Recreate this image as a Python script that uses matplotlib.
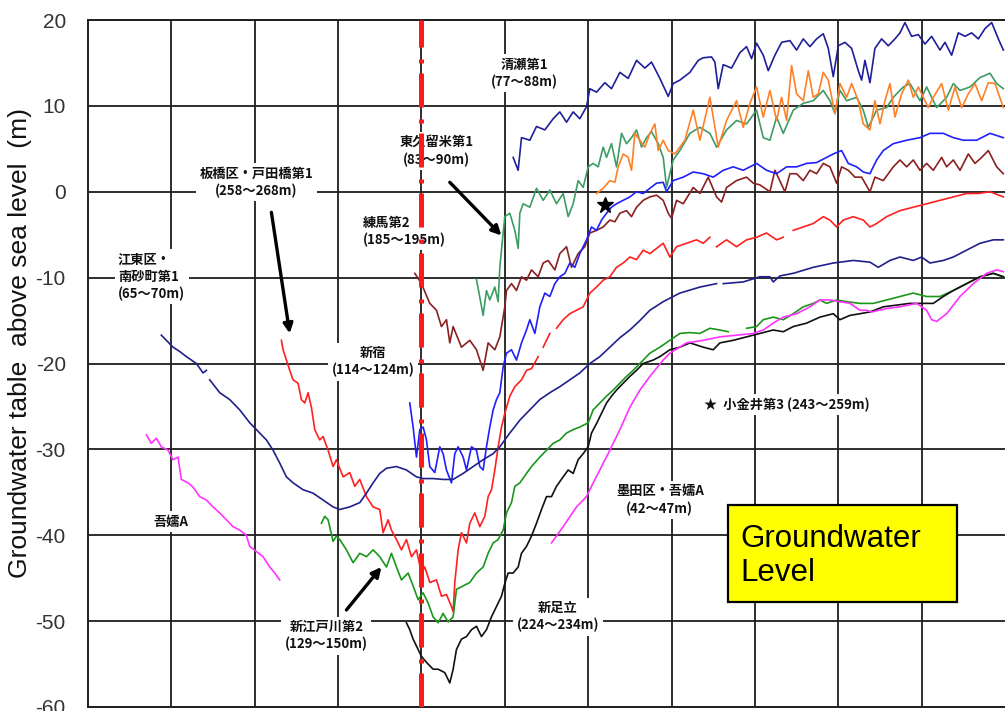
import numpy as np
import matplotlib
matplotlib.use("Agg")
import matplotlib.pyplot as plt
from matplotlib.patches import Rectangle

nan = np.nan

# groundwater level series (year, m above sea level)
kiyose = [(1975.5,4.0),(1975.8,2.5),(1976.0,6.3),(1976.5,6.0),(1976.9,7.6),(1977.4,7.2),(1977.9,8.5),(1978.3,9.3),
          (1978.7,8.1),(1979.1,9.3),(1979.5,8.5),(1979.9,9.9),(1980.1,12.0),(1980.5,11.6),(1981.0,12.7),(1981.4,12.0),
          (1981.9,13.9),(1982.4,13.2),(1982.9,15.3),(1983.4,14.4),(1983.8,15.1),(1984.3,13.2),(1984.8,11.1),(1985.1,12.6),
          (1985.5,13.0),(1986.1,13.9),(1986.6,15.3),(1986.9,15.6),(1987.4,15.7),(1987.6,15.1),(1987.8,12.0),(1988.1,14.8),
          (1988.6,14.4),(1989.1,16.2),(1989.5,16.9),(1989.8,15.5),(1990.1,17.3),(1990.5,15.9),(1990.8,14.1),(1991.2,15.9),
          (1991.6,17.4),(1992.1,17.6),(1992.5,16.5),(1992.9,17.8),(1993.3,16.9),(1993.7,17.8),(1994.1,18.4),(1994.4,16.7),
          (1994.7,13.4),(1995.0,17.0),(1995.4,17.4),(1995.8,16.7),(1996.2,14.1),(1996.4,13.0),(1996.6,15.3),(1996.9,12.7),
          (1997.2,16.7),(1997.6,17.8),(1998.0,17.0),(1998.4,17.8),(1998.7,18.5),(1999.0,19.7),(1999.4,18.1),(1999.8,18.3),
          (2000.2,17.2),(2000.6,18.1),(2001.1,16.5),(2001.4,17.4),(2001.8,15.9),(2002.2,18.5),(2002.6,18.1),(2003.0,18.5),
          (2003.4,17.8),(2003.8,19.0),(2004.2,19.7),(2004.6,17.8),(2004.9,16.5)]

higashikurume = [(1973.3,-10.2),(1973.7,-14.4),(1973.9,-11.5),(1974.1,-12.6),(1974.4,-11.1),(1974.6,-12.8),(1974.7,-8.8),
                 (1974.9,-4.8),(1975.0,-2.9),(1975.3,-2.5),(1975.6,-4.5),(1975.8,-6.6),(1975.9,-2.5),(1976.1,-1.4),
                 (1976.5,-1.8),(1976.9,0.4),(1977.3,-1.0),(1977.7,0.2),(1978.1,-1.4),(1978.5,-0.2),(1978.8,-2.9),
                 (1979.1,-1.4),(1979.4,1.3),(1979.7,0.5),(1980.0,2.9),(1980.3,3.3),(1980.6,2.9),(1980.9,5.2),(1981.1,4.0),
                 (1981.4,5.6),(1981.7,2.9),(1982.0,6.8),(1982.3,5.6),(1982.6,6.3),(1982.9,7.2),(1983.2,5.2),(1983.5,6.3),
                 (1983.8,7.0),(1984.2,5.6),(1984.5,4.0),(1984.7,0.5),(1985.1,3.7),(1985.5,4.8),(1986.1,6.8),(1986.7,7.5),
                 (1987.3,6.8),(1987.7,5.2),(1988.3,7.2),(1988.9,8.3),(1989.5,7.9),(1990.1,9.5),(1990.5,6.3),(1990.9,6.0),
                 (1991.3,8.7),(1991.7,6.8),(1992.3,9.5),(1992.9,10.3),(1993.5,10.6),(1994.1,11.8),(1994.5,10.6),
                 (1994.8,9.1),(1995.1,11.8),(1995.5,10.6),(1996.1,11.0),(1996.5,9.5),(1996.8,7.5),(1997.3,9.5),
                 (1997.9,9.8),(1998.3,11.0),(1998.9,12.2),(1999.3,12.6),(1999.9,10.6),(2000.3,12.2),(2000.9,9.8),
                 (2001.5,11.0),(2001.9,12.6),(2002.3,11.8),(2002.9,12.2),(2003.5,13.3),(2004.1,13.8),(2004.5,12.6),
                 (2004.9,12.0)]

orange = [(1980.5,-0.2),(1980.9,0.4),(1981.3,1.3),(1981.6,1.1),(1981.8,2.9),(1982.1,4.4),(1982.4,4.0),(1982.6,2.5),
          (1982.8,6.8),(1983.1,6.0),(1983.4,5.2),(1983.7,6.8),(1984.0,7.9),(1984.2,4.8),(1984.5,6.0),(1984.8,4.8),
          (1985.2,4.4),(1985.8,6.0),(1986.3,9.5),(1986.7,6.0),(1987.3,11.0),(1987.8,5.2),(1988.3,8.3),(1988.9,10.6),
          (1989.3,7.5),(1989.7,10.3),(1990.1,12.2),(1990.5,8.7),(1990.9,11.8),(1991.3,8.3),(1991.6,11.0),(1991.9,8.3),
          (1992.2,14.7),(1992.5,11.4),(1992.9,10.6),(1993.2,14.1),(1993.5,11.0),(1993.8,11.4),(1994.1,13.9),
          (1994.4,13.0),(1994.8,9.1),(1995.1,12.6),(1995.5,11.0),(1995.8,12.6),(1996.2,10.6),(1996.5,7.9),(1996.9,7.2),
          (1997.2,10.6),(1997.5,7.9),(1997.8,10.6),(1998.1,12.6),(1998.4,8.7),(1998.8,11.4),(1999.2,13.0),
          (1999.5,11.0),(1999.8,12.2),(2000.0,11.4),(2000.4,9.8),(2000.7,11.0),(2001.2,12.6),(2001.6,9.5),
          (2002.0,12.2),(2002.4,9.8),(2002.8,11.4),(2003.2,12.6),(2003.6,10.6),(2004.0,12.7),(2004.4,12.6),
          (2004.9,9.8)]

nerima = [(1969.6,-9.5),(1970.0,-10.7),(1970.5,-13.0),(1970.9,-13.8),(1971.2,-15.7),(1971.5,-14.9),(1971.7,-17.6),
          (1971.9,-15.7),(1972.4,-18.1),(1972.9,-17.3),(1973.3,-18.4),(1973.7,-20.8),(1974.0,-17.6),(1974.4,-18.4),
          (1974.7,-16.9),(1975.0,-13.4),(1975.1,-11.5),(1975.4,-10.7),(1975.7,-11.5),(1976.0,-9.9),(1976.3,-10.3),
          (1976.6,-9.1),(1977.0,-9.9),(1977.3,-8.3),(1977.6,-8.0),(1978.0,-9.1),(1978.3,-7.2),(1978.7,-6.4),
          (1979.0,-8.8),(1979.4,-7.2),(1979.8,-6.4),(1980.1,-4.8),(1980.5,-4.5),(1980.9,-4.1),(1981.3,-3.3),
          (1981.6,-3.5),(1981.9,-2.5),(1982.3,-2.2),(1982.6,-2.9),(1982.9,-1.8),(1983.3,-1.0),(1983.7,-0.6),
          (1984.1,-0.4),(1984.5,-1.0),(1984.8,-2.5),(1985.0,-3.1),(1985.3,-1.0),(1985.7,-1.4),(1986.3,0.5),
          (1986.7,-0.2),(1987.2,1.7),(1987.7,-0.6),(1988.0,-1.2),(1988.3,0.5),(1988.9,1.3),(1989.5,1.7),(1989.9,1.0),
          (1990.3,0.8),(1990.9,0.0),(1991.2,2.5),(1991.8,0.0),(1992.1,2.1),(1992.5,2.1),(1992.9,1.3),(1993.3,2.5),
          (1993.7,2.1),(1994.1,3.3),(1994.5,2.9),(1994.9,1.0),(1995.2,2.9),(1995.6,2.5),(1996.0,1.7),(1996.4,1.7),
          (1996.9,0.0),(1997.2,1.7),(1997.7,1.3),(1998.3,2.9),(1998.7,3.7),(1999.1,2.9),(1999.5,3.7),(1999.9,2.5),
          (2000.3,3.3),(2000.7,2.5),(2001.2,4.0),(2001.5,2.9),(2001.9,3.7),(2002.3,2.5),(2002.8,4.4),(2003.2,3.3),
          (2003.6,4.0),(2004.0,4.8),(2004.5,2.9),(2004.9,2.1)]

shinjuku = [(1969.3,-24.6),(1969.5,-27.4),(1969.7,-30.9),(1969.9,-27.7),(1970.1,-27.4),(1970.3,-28.9),(1970.5,-32.0),
            (1970.8,-32.7),(1971.1,-29.7),(1971.3,-30.5),(1971.5,-32.4),(1971.8,-33.9),(1972.0,-30.5),(1972.2,-29.7),
            (1972.5,-30.9),(1972.7,-32.4),(1973.0,-29.7),(1973.3,-30.1),(1973.5,-32.0),(1973.7,-32.4),(1973.9,-29.7),
            (1974.1,-27.4),(1974.3,-25.4),(1974.5,-24.2),(1974.7,-23.4),(1974.9,-20.4),(1975.1,-18.8),(1975.4,-18.4),
            (1975.7,-19.6),(1976.0,-17.6),(1976.3,-16.1),(1976.5,-14.9),(1976.8,-16.5),(1977.1,-13.4),(1977.4,-11.8),
            (1977.7,-12.2),(1978.0,-10.7),(1978.3,-9.9),(1978.6,-9.5),(1978.9,-8.3),(1979.2,-8.8),(1979.5,-7.2),
            (1979.9,-5.6),(1980.2,-4.1),(1980.5,-4.5),(1980.8,-3.3),(1981.1,-2.5),(1981.4,-1.8),(1981.7,-1.4),
            (1982.1,-1.0),(1982.5,-0.6),(1982.9,0.0),(1983.3,-0.2),(1983.7,0.4),(1984.1,1.0),(1984.5,1.1),
            (1984.7,0.0),(1985.1,1.3),(1985.7,1.7),(1986.3,2.3),(1986.9,2.1),(1987.5,1.7),(1988.1,2.5),(1988.7,2.9),
            (1989.3,2.5),(1990.1,3.3),(1990.7,2.5),(1991.3,2.1),(1991.9,2.9),(1992.5,2.9),(1993.1,3.3),(1993.7,3.4),
            (1994.3,4.0),(1994.7,4.4),(1995.2,4.8),(1995.6,3.3),(1996.1,2.9),(1996.5,2.3),(1996.9,2.1),(1997.3,3.7),
            (1997.7,4.8),(1998.3,5.6),(1999.1,6.0),(1999.9,6.3),(2000.5,6.8),(2001.3,6.8),(2001.9,6.3),(2002.5,6.0),
            (2003.3,6.0),(2004.1,6.8),(2004.9,6.3)]

itabashi = [(1961.6,-17.3),(1961.7,-18.4),(1961.9,-19.6),(1962.1,-20.8),(1962.3,-21.9),(1962.6,-22.3),(1962.8,-24.2),
            (1963.0,-24.6),(1963.2,-23.4),(1963.4,-25.1),(1963.6,-27.7),(1963.9,-28.9),(1964.1,-28.5),(1964.4,-30.1),
            (1964.7,-32.0),(1964.9,-31.2),(1965.3,-33.2),(1965.7,-32.7),(1966.0,-34.3),(1966.3,-33.5),(1966.7,-35.5),
            (1967.1,-36.7),(1967.5,-37.0),(1967.7,-39.7),(1968.0,-38.2),(1968.2,-39.4),(1968.5,-40.5),(1968.8,-41.7),
            (1969.1,-40.5),(1969.4,-42.5),(1969.7,-41.7),(1970.0,-44.4),(1970.2,-43.7),(1970.5,-45.5),(1970.9,-45.2),
            (1971.2,-47.1),(1971.5,-46.9),(1971.8,-48.3),(1971.9,-48.9),(1972.0,-45.5),(1972.2,-41.7),(1972.4,-39.7),
            (1972.7,-40.9),(1972.9,-38.6),(1973.2,-37.4),(1973.5,-39.0),(1973.8,-37.8),(1974.0,-35.5),(1974.2,-34.7),
            (1974.4,-32.4),(1974.6,-29.7),(1974.8,-27.4),(1975.0,-25.8),(1975.3,-23.8),(1975.6,-22.7),(1976.0,-21.9),
            (1976.3,-20.8),(1976.6,-20.6),(1977.0,-19.2),(1977.1,nan),(1977.3,-18.1),(1977.7,-16.5),(1977.9,nan),
            (1978.1,-15.9),(1978.5,-14.9),(1978.9,-14.2),(1979.3,-13.8),(1979.7,-13.4),(1980.1,-11.8),(1980.5,-11.1),
            (1980.9,-10.3),(1981.3,-9.9),(1981.7,-8.8),(1982.1,-8.3),(1982.5,-7.6),(1982.9,-7.9),(1983.3,-6.8),
            (1983.7,-7.2),(1984.1,-6.6),(1984.5,-6.0),(1984.9,-7.6),(1985.3,-6.4),(1985.9,-6.0),(1986.5,-5.6),
            (1986.9,-6.0),(1987.3,-5.3),(1987.5,nan),(1987.7,-6.4),(1988.3,-5.6),(1988.9,-6.4),(1989.5,-5.6),
            (1990.1,-5.3),(1990.7,-4.8),(1991.3,-5.6),(1991.7,-5.3),(1991.9,nan),(1992.3,-4.5),(1992.9,-4.1),
            (1993.5,-3.7),(1994.1,-2.9),(1994.5,-3.3),(1994.9,-4.1),(1995.3,-3.3),(1995.9,-2.9),(1996.5,-3.3),
            (1996.9,-4.1),(1997.3,-3.7),(1997.9,-2.9),(1998.7,-2.2),(1999.5,-1.8),(2000.3,-1.4),(2001.1,-1.0),
            (2001.9,-0.6),(2002.7,-0.2),(2003.4,-0.2),(2004.1,0.0),(2004.9,-0.6)]

koto = [(1954.4,-16.7),(1955.1,-18.1),(1955.5,-18.6),(1955.9,-19.2),(1956.5,-20.0),(1956.9,-21.1),(1957.1,-20.8),
        (1957.2,nan),(1957.3,-21.9),(1957.9,-23.4),(1958.5,-24.2),(1959.1,-25.4),(1959.7,-26.9),(1960.3,-28.1),
        (1960.7,-28.9),(1961.1,-30.1),(1961.5,-31.6),(1961.9,-33.2),(1962.3,-33.9),(1962.9,-34.7),(1963.5,-35.1),
        (1964.1,-35.9),(1964.7,-36.7),(1965.1,-37.0),(1965.7,-36.7),(1966.3,-36.2),(1966.7,-35.1),(1967.1,-33.9),
        (1967.5,-32.8),(1967.9,-32.2),(1968.5,-32.0),(1969.1,-32.4),(1969.7,-33.2),(1970.1,-33.4),(1970.7,-33.4),
        (1971.3,-33.5),(1971.9,-33.5),(1972.5,-32.8),(1973.1,-32.0),(1973.7,-31.2),(1974.3,-30.5),(1974.7,-29.7),
        (1975.0,-28.9),(1975.3,-28.1),(1975.9,-26.6),(1976.5,-25.4),(1977.1,-24.2),(1977.7,-23.4),(1978.3,-22.7),
        (1978.9,-21.9),(1979.5,-21.1),(1980.1,-20.0),(1980.7,-19.2),(1981.3,-18.1),(1981.9,-17.0),(1982.5,-16.1),
        (1983.1,-15.0),(1983.7,-13.8),(1984.5,-12.8),(1985.5,-11.8),(1986.7,-11.1),(1987.7,-10.7),(1987.9,nan),
        (1988.1,-10.7),(1989.3,-10.5),(1990.3,-9.9),(1990.9,-9.9),(1991.1,-10.5),(1991.5,-9.8),(1992.3,-9.5),
        (1993.5,-8.8),(1994.7,-8.3),(1995.9,-8.0),(1996.9,-8.2),(1997.4,-8.8),(1998.1,-8.0),(1998.7,-7.6),
        (1999.5,-8.0),(2000.0,-7.6),(2000.5,-8.3),(2001.3,-8.0),(2001.9,-7.6),(2002.7,-6.8),(2003.5,-6.0),
        (2004.3,-5.6),(2004.9,-5.6)]

edogawa = [(1964.0,-38.6),(1964.2,-37.8),(1964.4,-38.2),(1964.7,-40.7),(1964.9,-40.1),(1965.1,-40.5),(1965.5,-41.7),
           (1965.9,-43.2),(1966.3,-42.1),(1966.7,-42.5),(1967.1,-41.7),(1967.5,-42.5),(1967.9,-43.7),(1968.2,-42.1),
           (1968.5,-43.7),(1968.8,-45.2),(1969.2,-44.4),(1969.5,-45.9),(1969.8,-47.5),(1970.1,-46.7),(1970.4,-47.9),
           (1970.7,-49.5),(1971.0,-50.2),(1971.3,-49.1),(1971.6,-50.1),(1971.9,-49.5),(1972.1,-46.3),(1972.5,-45.9),
           (1972.9,-45.5),(1973.3,-44.4),(1973.7,-43.7),(1974.0,-42.1),(1974.3,-40.9),(1974.6,-40.5),(1974.9,-39.4),
           (1975.1,-37.4),(1975.4,-36.2),(1975.6,-34.3),(1975.9,-33.9),(1976.3,-32.8),(1976.6,-32.0),(1977.1,-30.9),
           (1977.5,-30.1),(1977.9,-29.3),(1978.3,-28.9),(1978.7,-28.1),(1979.1,-27.7),(1979.5,-27.4),(1980.0,-26.9),
           (1980.3,-25.4),(1980.7,-24.6),(1981.1,-23.8),(1981.5,-23.1),(1981.9,-22.3),(1982.3,-21.5),(1982.7,-20.8),
           (1983.1,-20.0),(1983.7,-18.8),(1984.3,-18.1),(1984.9,-17.3),(1985.5,-16.5),(1986.1,-16.4),(1986.7,-16.5),
           (1987.3,-15.9),(1987.9,-16.1),(1988.4,-16.3),(1988.7,nan),(1989.5,-15.9),(1990.1,-15.7),(1990.5,-14.9),
           (1991.1,-14.6),(1991.7,-14.9),(1992.3,-14.2),(1992.9,-13.4),(1993.5,-13.0),(1993.9,-12.6),(1994.3,-13.0),
           (1994.9,-12.6),(1995.5,-12.8),(1996.3,-13.0),(1997.1,-13.0),(1997.9,-12.6),(1998.7,-12.2),(1999.5,-11.8),
           (2000.3,-12.2),(2001.1,-12.2),(2001.9,-11.5),(2002.7,-10.7),(2003.5,-9.9),(2004.3,-9.5),(2004.9,-9.9)]

adachi = [(1969.1,-50.2),(1969.3,-51.0),(1969.5,-52.1),(1969.8,-53.3),(1970.0,-54.1),(1970.3,-54.8),(1970.7,-55.6),
          (1971.0,-55.6),(1971.4,-56.0),(1971.7,-57.2),(1971.9,-55.6),(1972.1,-53.3),(1972.4,-52.1),(1972.7,-51.8),
          (1973.0,-51.0),(1973.3,-50.6),(1973.6,-51.8),(1973.9,-51.0),(1974.2,-49.5),(1974.5,-48.3),(1974.8,-47.1),
          (1975.0,-45.6),(1975.2,-44.4),(1975.5,-44.4),(1975.8,-43.7),(1976.0,-42.1),(1976.3,-41.3),(1976.6,-40.1),
          (1976.9,-38.6),(1977.2,-37.0),(1977.5,-35.5),(1977.8,-35.5),(1978.1,-34.3),(1978.5,-33.2),(1978.8,-32.4),
          (1979.1,-32.8),(1979.4,-31.2),(1979.7,-30.5),(1980.0,-29.7),(1980.2,-28.1),(1980.5,-27.0),(1980.8,-25.8),
          (1981.1,-24.6),(1981.4,-23.8),(1981.7,-23.1),(1982.1,-22.3),(1982.5,-21.5),(1982.9,-20.8),(1983.3,-20.0),
          (1983.9,-19.6),(1984.3,-19.2),(1984.9,-18.4),(1985.5,-18.1),(1986.1,-17.6),(1986.9,-18.1),(1987.5,-18.4),
          (1987.9,-17.6),(1988.7,-17.3),(1989.5,-16.9),(1990.3,-16.5),(1991.1,-16.1),(1991.7,-16.3),(1992.3,-15.7),
          (1993.1,-15.3),(1993.9,-14.6),(1994.7,-14.2),(1995.1,-14.9),(1995.7,-14.4),(1996.3,-14.2),(1996.9,-14.0),
          (1997.7,-13.4),(1998.5,-13.2),(1999.3,-13.0),(2000.1,-13.0),(2000.7,-13.0),(2001.3,-12.2),(2001.9,-11.5),
          (2002.7,-10.7),(2003.5,-9.9),(2004.3,-9.5),(2004.9,-9.9)]

sumida = [(1977.8,-40.9),(1978.5,-39.0),(1979.3,-36.7),(1979.9,-35.5),(1980.3,-33.9),(1980.7,-32.4),(1981.3,-30.1),
          (1981.9,-27.7),(1982.5,-25.1),(1983.1,-23.1),(1983.7,-21.5),(1984.5,-19.6),(1984.9,-18.8),(1985.9,-17.6),
          (1986.9,-17.3),(1987.9,-16.9),(1988.9,-16.7),(1989.9,-16.5),(1990.5,-16.1),(1991.1,-15.3),(1991.7,-14.6),
          (1992.5,-14.2),(1993.3,-13.4),(1993.9,-12.6),(1994.5,-12.6),(1995.1,-12.8),(1995.7,-13.0),(1996.3,-13.8),
          (1996.7,-13.8),(1997.0,-14.0),(1997.9,-13.6),(1998.7,-13.4),(1999.7,-13.0),(2000.0,-13.4),(2000.3,-13.8),
          (2000.6,-14.9),(2000.9,-15.1),(2001.5,-14.2),(2002.3,-12.2),(2003.1,-10.7),(2003.9,-9.5),(2004.5,-9.1),
          (2004.9,-9.3)]

azuma = [(1953.5,-28.3),(1953.8,-29.3),(1954.1,-28.7),(1954.4,-29.7),(1954.8,-30.1),(1955.1,-31.2),(1955.4,-30.9),
         (1955.6,-33.5),(1956.0,-33.9),(1956.3,-34.4),(1956.7,-35.5),(1957.1,-35.9),(1957.5,-36.7),(1957.9,-37.4),
         (1958.3,-38.2),(1958.7,-39.0),(1959.1,-39.4),(1959.5,-40.0),(1959.7,-41.3),(1960.1,-41.9),(1960.5,-42.5),
         (1960.9,-43.7),(1961.2,-44.4),(1961.5,-45.2)]

series = [
    (kiyose, '#1f1f99'),
    (higashikurume, '#3c9c64'),
    (orange, '#ff8026'),
    (nerima, '#8b2020'),
    (shinjuku, '#2020ff'),
    (itabashi, '#ff2020'),
    (koto, '#20208c'),
    (edogawa, '#1a961a'),
    (adachi, '#111111'),
    (sumida, '#ff33ff'),
    (azuma, '#ff33ff'),
]

# station labels: text, x, y, alignment
labels = [
    ('江東区・\n南砂町第1\n(65～70m)', 1951.8, -9.9, 'left'),
    ('板橋区・戸田橋第1\n(258～268m)', 1960.1, 1.1, 'center'),
    ('清瀬第1\n(77～88m)', 1976.2, 13.8, 'center'),
    ('東久留米第1\n(83～90m)', 1970.9, 4.7, 'center'),
    ('練馬第2\n(185～195m)', 1966.5, -4.6, 'left'),
    ('新宿\n(114～124m)', 1967.1, -19.8, 'center'),
    ('吾嬬A', 1955.0, -38.4, 'center'),
    ('新江戸川第2\n(129～150m)', 1964.3, -51.7, 'center'),
    ('新足立\n(224～234m)', 1978.2, -49.5, 'center'),
    ('墨田区・吾嬬A\n(42～47m)', 1984.3, -35.9, 'center'),
    ('★  小金井第3 (243～259m)', 1991.9, -24.8, 'center'),
]

# arrows: (tail, head)
arrows = [
    ((1961.0, -2.4), (1962.1, -16.5)),
    ((1971.7, 1.1), (1974.8, -5.1)),
    ((1965.5, -48.7), (1967.6, -43.7)),
]

star_x, star_y = 1981.0, -1.6
yticks = list(range(-60, 21, 10))

fig = plt.figure(figsize=(10.05, 7.11), dpi=100)
ax = fig.add_axes([88 / 1005, 1 - 707 / 711, 1 - 88 / 1005, (707 - 20) / 711])
ax.set_xlim(1950, 2005)
ax.set_ylim(-60, 20)

ax.set_xticks(range(1955, 2005, 5))
ax.set_xticklabels([])
ax.set_yticks(yticks)
ax.set_yticklabels([str(v) for v in yticks], fontsize=15, color='#333333',
                   fontfamily='Liberation Sans')
ax.tick_params(axis='both', length=0)
ax.tick_params(axis='y', pad=16)
ax.grid(True, color='#1e1e1e', lw=1.3)
ax.set_axisbelow(True)
for s in ['left', 'top', 'bottom']:
    ax.spines[s].set_color('#1e1e1e')
    ax.spines[s].set_linewidth(1.4)
ax.spines['right'].set_visible(False)

for data, col in series:
    xs = [p[0] for p in data]
    ys = [p[1] for p in data]
    ax.plot(xs, ys, color=col, lw=1.2, zorder=4)

ax.plot(star_x, star_y, marker='*', ms=12, color='black', zorder=5)

cjk = ['Noto Sans CJK JP', 'DejaVu Sans']
for txt, x, y, ha in labels:
    ax.text(x, y, txt, ha=ha, va='center', fontsize=9.5, family=cjk, color='#111111',
            fontweight='bold', linespacing=1.25, zorder=3,
            bbox=dict(facecolor='white', edgecolor='none', pad=2.5))

for tail, head in arrows:
    ax.annotate('', xy=head, xytext=tail, zorder=5,
                arrowprops=dict(arrowstyle='-|>', color='black', lw=2.4,
                                mutation_scale=14, shrinkA=0, shrinkB=0))

# 1970 marker
ax.axvline(1970, color='#ff1a1a', lw=3.6, linestyle=(0, (6.8, 2.0, 0.8, 2.4)), zorder=6)

# yellow title box
ax.add_patch(Rectangle((1988.4, -47.8), 13.7, 11.3, facecolor='#ffff00', edgecolor='black',
                       lw=1.6, zorder=7))
ax.text(1989.1, -42.4, 'Groundwater\nLevel', ha='left', va='center', fontsize=22.5,
        family='Liberation Sans', color='black', linespacing=1.2, zorder=8)

fig.text(20 / 1005, 1 - 343 / 711, 'Groundwater table  above sea level  (m)', rotation=90,
         ha='center', va='center', fontsize=19, family='Liberation Sans', color='#111111')

fig.savefig('out.png', dpi=100)
